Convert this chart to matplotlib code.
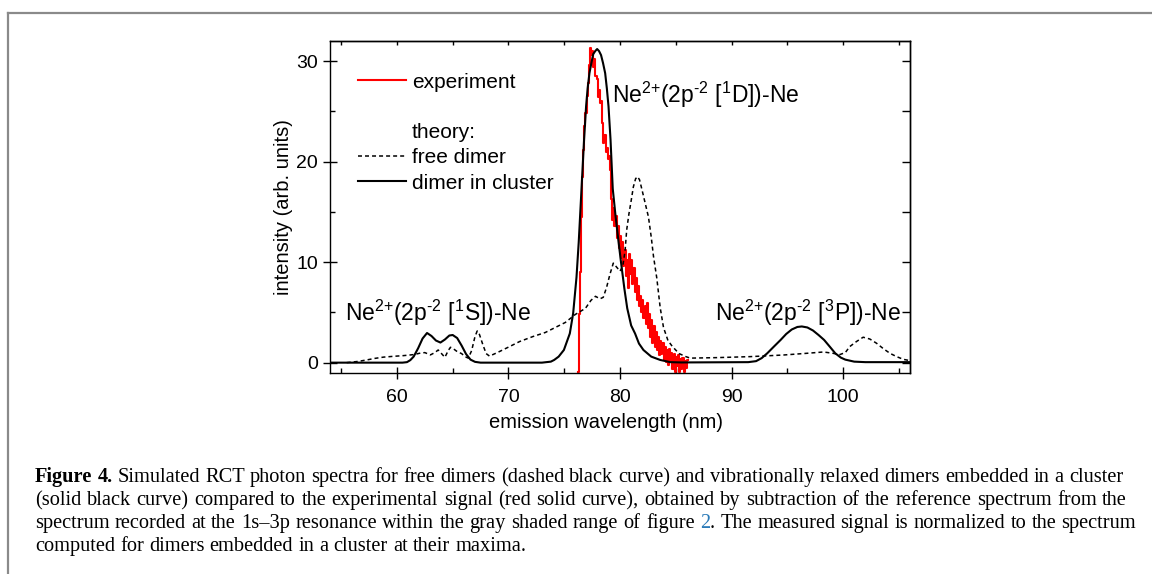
import numpy as np
import matplotlib
matplotlib.use('Agg')
import matplotlib.pyplot as plt
from matplotlib.lines import Line2D

plt.rcParams['font.family'] = ['Liberation Sans', 'DejaVu Sans']
plt.rcParams['mathtext.fontset'] = 'custom'
plt.rcParams['mathtext.rm'] = 'Liberation Sans'
plt.rcParams['mathtext.it'] = 'Liberation Sans:italic'
plt.rcParams['mathtext.bf'] = 'Liberation Sans:bold'

# ---------------- data ----------------
cluster_x = [54.0, 60.5, 60.9, 61.2, 61.5, 61.9, 62.3, 62.7, 63.1, 63.5, 63.9, 64.3, 64.7, 65.0,
             65.4, 65.8, 66.2, 66.6, 67.0, 67.5, 73.0, 73.8, 74.1, 74.5, 74.97, 75.5, 75.8,
             76.1, 76.3, 76.55, 76.78, 76.96, 77.1, 77.26, 77.45, 77.6, 77.78, 77.95, 78.12,
             78.3, 78.48, 78.67, 78.82, 78.97, 79.15, 79.35, 79.6, 79.85, 80.1, 80.4, 80.65,
             81.0, 81.35, 81.7, 82.1, 82.8, 83.6, 84.5, 85.5, 91.5, 92.2, 92.7, 93.2, 93.8,
             94.4, 94.9, 95.4, 95.9, 96.3, 96.8, 97.3, 97.8, 98.3, 98.8, 99.3, 99.8, 100.2,
             101.0, 102.0, 106.0]
cluster_y = [0.0, 0.0, 0.05, 0.25, 0.6, 1.43, 2.4, 2.95, 2.65, 2.2, 2.0, 2.3, 2.7, 2.75,
             2.45, 1.7, 0.85, 0.3, 0.08, 0.0, 0.0, 0.1, 0.27, 0.6, 1.26, 2.9, 4.9,
             8.5, 12.0, 17.3, 22.2, 25.5, 27.3, 28.8, 29.9, 30.7, 31.0, 31.2, 31.0,
             30.6, 29.8, 28.8, 27.3, 25.5, 22.2, 17.3, 14.6, 12.2, 9.9, 7.3, 5.4,
             3.7, 2.9, 1.9, 1.26, 0.6, 0.27, 0.05, 0.02, 0.05, 0.15, 0.45, 0.93, 1.6,
             2.26, 2.85, 3.3, 3.55, 3.6, 3.5, 3.2, 2.75, 2.26, 1.6, 0.93, 0.5, 0.3,
             0.1, 0.05, 0.05]

free_x = [55.5, 56.5, 57.3, 58.0, 58.8, 59.7, 60.6, 61.5, 62.1, 62.5, 63.0, 63.4, 63.7, 64.0,
          64.3, 64.6, 64.8, 65.1, 65.4, 65.8, 66.1, 66.4, 66.7, 67.0, 67.2, 67.4, 67.7, 68.0,
          68.3, 69.0, 70.1, 71.0, 72.2, 73.3, 74.2, 75.1, 76.0, 76.9, 77.4, 77.8, 78.2, 78.5,
          78.8, 79.1, 79.4, 79.7, 80.0, 80.25, 80.46, 80.6, 80.8, 80.97, 81.2, 81.4, 81.57,
          81.75, 81.95, 82.25, 82.55, 82.8, 83.0, 83.3, 83.6, 83.9, 84.3, 84.7, 85.3, 85.9,
          86.3, 88.7, 91.7, 94.65, 96.75, 98.25, 99.1, 99.7, 100.2, 100.6, 101.2, 101.8,
          102.4, 103.0, 103.6, 104.2, 104.8, 105.4, 106.0]
free_y = [0.0, 0.12, 0.27, 0.42, 0.55, 0.63, 0.7, 0.8, 0.95, 1.0, 0.77, 1.0, 1.26, 0.9,
          0.53, 1.2, 1.53, 1.35, 1.1, 0.9, 0.6, 0.45, 1.2, 2.6, 3.15, 2.8, 1.8, 0.9,
          0.65, 1.0, 1.6, 2.1, 2.6, 3.0, 3.5, 4.0, 4.8, 5.4, 6.2, 6.6, 6.35, 6.5,
          7.5, 8.8, 9.9, 9.5, 9.1, 9.6, 11.2, 13.2, 14.8, 15.9, 17.5, 18.3, 18.5,
          18.2, 17.3, 15.9, 14.5, 12.5, 10.6, 8.4, 5.5, 3.5, 2.2, 1.6, 0.9, 0.6,
          0.45, 0.5, 0.6, 0.76, 0.93, 1.06, 0.93, 0.8, 1.0, 1.6, 2.1, 2.53,
          2.35, 1.93, 1.4, 0.93, 0.6, 0.33, 0.2]

exp_start = 76.2   # first bin (nm)
exp_step = 0.1     # bin width (nm)
exp_y = [-0.9, 4.8, 9.0, 14.5, 18.5, 21.2, 23.5, 24.8, 26.5, 27.8,
         29.6, 31.3, 30.6, 31.0, 29.4, 30.2, 28.5, 28.2, 26.4, 27.1,
         25.8, 26.0, 23.8, 21.9, 22.6, 21.0, 21.4, 20.3, 20.6, 19.2,
         16.3, 14.2, 15.4, 13.6, 14.6, 12.4, 13.6, 11.4, 12.6, 10.4,
         12.0, 9.6, 11.2, 8.6, 10.2, 7.4, 10.8, 8.8, 10.2, 7.8,
         9.4, 7.0, 8.4, 6.2, 7.6, 5.6, 6.6, 5.0, 6.2, 4.4,
         5.6, 3.8, 5.9, 3.4, 4.8, 2.6, 4.2, 2.0, 3.6, 1.6,
         3.0, 1.3, 2.6, 0.8, 2.2, 0.9, 2.0, 0.3, 1.6, 0.1,
         1.3, -0.2, 1.4, 0.2, 1.0, -0.6, 0.9, -0.9, 0.6, -0.3,
         0.8, -0.9, 0.4, -0.6, 0.5, -0.9, 0.2, -0.5, 0.3, 0.3]

x_major = [60, 70, 80, 90, 100]
x_minor = [55, 65, 75, 85, 95, 105]
y_major = [0, 10, 20, 30]
y_minor = [5, 15, 25]
top_ticks = [55, 60, 65, 70, 75, 80, 85, 90, 95, 100, 105]
right_ticks = [0, 5, 10, 15, 20, 25, 30]

legend_labels = ['experiment', ' ', 'theory:', 'free dimer', 'dimer in cluster']

caption_lines = [
    [[("Figure", 'bold', 'k')], [("4.", 'bold', 'k')]] +
    [[(w, 'normal', 'k')] for w in "Simulated RCT photon spectra for free dimers (dashed black curve) and vibrationally relaxed dimers embedded in a cluster".split()],
    [[(w, 'normal', 'k')] for w in "(solid black curve) compared to the experimental signal (red solid curve), obtained by subtraction of the reference spectrum from the".split()],
    [[(w, 'normal', 'k')] for w in "spectrum recorded at the 1s\u20133p resonance within the gray shaded range of figure".split()] +
    [[("2", 'normal', '#2a7ab8'), (".", 'normal', 'k')]] +
    [[(w, 'normal', 'k')] for w in "The measured signal is normalized to the spectrum".split()],
    [[(w, 'normal', 'k')] for w in "computed for dimers embedded in a cluster at their maxima.".split()],
]

# ---------------- figure ----------------
W, H = 1152, 574
fig = plt.figure(figsize=(W / 100, H / 100), dpi=100)
fig.patch.set_facecolor('white')

ax_l, ax_r, ax_t, ax_b = 330, 910, 41, 372.7
ax = fig.add_axes([ax_l / W, 1 - ax_b / H, (ax_r - ax_l) / W, (ax_b - ax_t) / H])

exp_x = exp_start + exp_step * np.arange(len(exp_y))
ax.plot(exp_x, exp_y, color='#ff0000', lw=1.5, drawstyle='steps-post', zorder=2)
ax.plot(free_x, free_y, color='black', lw=1.1, dashes=(2.6, 2.0), zorder=3)
ax.plot(cluster_x, cluster_y, color='black', lw=1.5, zorder=4)

ax.set_xlim(54, 106)
ax.set_ylim(-1, 32)

ax.set_xticks(x_major)
ax.set_xticks(x_minor, minor=True)
ax.set_yticks(y_major)
ax.set_yticks(y_minor, minor=True)
ax.tick_params(axis='both', which='major', direction='inout', width=1.0, labelsize=14)
ax.tick_params(axis='x', which='major', length=9, pad=7)
ax.tick_params(axis='y', which='major', length=10.5, pad=3.5)
ax.tick_params(axis='both', which='minor', direction='in', length=3.5, width=1.0)
for sp in ax.spines.values():
    sp.set_linewidth(1.0)

secx = ax.secondary_xaxis('top')
secx.set_xticks(top_ticks)
secx.tick_params(direction='in', length=3.2, width=1.0, labeltop=False)
secx.spines['top'].set_linewidth(1.0)
secy = ax.secondary_yaxis('right')
secy.set_yticks(right_ticks)
secy.tick_params(direction='in', length=6, width=1.0, labelright=False)
secy.spines['right'].set_linewidth(1.0)

ax.set_xlabel('emission wavelength (nm)', fontsize=14.5, va='center')
ax.xaxis.set_label_coords(0.476, -0.149)
ax.set_ylabel('intensity (arb. units)', fontsize=14.5, va='center')
ax.yaxis.set_label_coords(-0.081, 0.5)

lab_fmt = r'Ne$^{\text{2+}}$(2p$^{\text{-2}}$ [$^{\text{%s}}$%s])-Ne'
ax.text(79.3, 25.8, lab_fmt % ('1', 'D'), fontsize=16.5, ha='left', va='baseline')
ax.text(55.35, 4.2, lab_fmt % ('1', 'S'), fontsize=16.5, ha='left', va='baseline')
ax.text(88.55, 4.2, lab_fmt % ('3', 'P'), fontsize=16.5, ha='left', va='baseline')

handles = [Line2D([], [], color='#ff0000', lw=1.5),
           Line2D([], [], color='none'),
           Line2D([], [], color='none'),
           Line2D([], [], color='black', lw=1.1, dashes=(2.6, 2.0)),
           Line2D([], [], color='black', lw=1.5)]
ax.legend(handles, legend_labels, loc='upper left', bbox_to_anchor=(0.048, 0.905),
          frameon=False, fontsize=15, handlelength=2.3, handletextpad=0.3,
          labelspacing=0.3, borderpad=0, borderaxespad=0)

# frame lines of the figure panel
fig.add_artist(Line2D([8 / W, 1.0], [1 - 13 / H, 1 - 13 / H], transform=fig.transFigure,
                      color='#8a8a8a', lw=1.6))
fig.add_artist(Line2D([8 / W, 8 / W], [0, 1 - 13 / H], transform=fig.transFigure,
                      color='#8a8a8a', lw=1.6))

# ---------------- caption ----------------
renderer = fig.canvas.get_renderer()
cap_family = ['Liberation Serif', 'DejaVu Serif']


def seg_width(s, weight, size):
    t = fig.text(0, 0, s, fontsize=size, fontweight=weight, family=cap_family)
    w = t.get_window_extent(renderer).width
    t.remove()
    return w


def word_width(word, size):
    return sum(seg_width(s, wt, size) for s, wt, c in word)


left_px = 35
right_px = [1123, 1127, 1136, None]
baselines = [482, 505, 528, 551]

ref_size = 10.0
space_ref = seg_width('a a', 'normal', ref_size) - seg_width('aa', 'normal', ref_size)
ratios = []
for line, rpx in zip(caption_lines[:3], right_px[:3]):
    nat = sum(word_width(w, ref_size) for w in line) + space_ref * (len(line) - 1)
    ratios.append((rpx - left_px) / nat)
cap_size = ref_size * min(ratios)

space = seg_width('a a', 'normal', cap_size) - seg_width('aa', 'normal', cap_size)
for line, rpx, bpx in zip(caption_lines, right_px, baselines):
    widths = [word_width(w, cap_size) for w in line]
    if rpx is None:
        gap = space
    else:
        gap = (rpx - left_px - sum(widths)) / (len(line) - 1)
    x = left_px
    for word, ww in zip(line, widths):
        xs = x
        for s, wt, c in word:
            fig.text(xs / W, 1 - bpx / H, s, fontsize=cap_size, fontweight=wt, color=c,
                     family=cap_family, ha='left', va='baseline')
            xs += seg_width(s, wt, cap_size)
        x += ww + gap

fig.savefig('out.png', dpi=100)
